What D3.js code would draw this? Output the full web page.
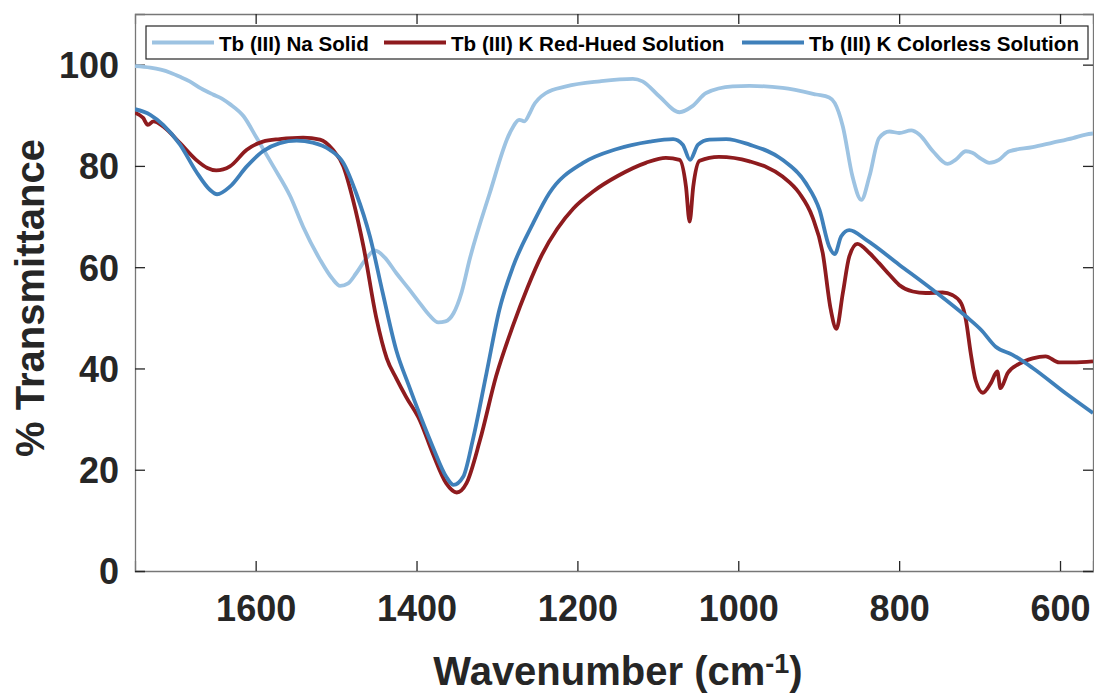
<!DOCTYPE html>
<html>
<head>
<meta charset="utf-8">
<script src="https://cdn.jsdelivr.net/npm/d3@7"></script>
<style>
  body { margin: 0; background: #fff; }
  svg { display: block; font-family: "Liberation Sans", Arial, Helvetica, sans-serif; font-weight: bold; }
</style>
</head>
<body>
<svg id="chart" width="1094" height="693"></svg>
<script>
// series names
var seriesNames = ['Tb (III) Na Solid', 'Tb (III) K Red-Hued Solution', 'Tb (III) K Colorless Solution'];

// Tb (III) Na Solid
var naWave = [1750, 1731, 1718, 1706, 1694, 1682, 1668, 1653, 1642, 1632, 1615, 1599, 1578, 1557, 1541, 1520, 1505, 1495, 1485, 1475, 1462, 1452, 1440, 1425, 1410, 1396, 1384, 1373, 1364, 1354, 1344, 1334, 1309, 1284, 1272, 1266, 1259, 1255, 1239, 1214, 1172, 1131, 1119, 1098, 1073, 1057, 1040, 1007, 986, 945, 903, 887, 880, 870, 858, 847, 837, 825, 812, 800, 785, 775, 758, 740, 730, 717, 709, 698, 688, 676, 663, 634, 609, 584, 568, 559];
var naT = [99.7, 99.4, 99.0, 98.4, 97.6, 96.7, 95.3, 94.1, 93.3, 92.2, 89.8, 85.6, 79.9, 74.0, 68.0, 61.5, 57.8, 56.3, 56.8, 58.8, 61.8, 63.3, 62.0, 58.8, 55.8, 52.9, 50.5, 49.1, 49.3, 50.9, 55.0, 61.5, 74.6, 86.5, 89.1, 88.8, 90.5, 91.8, 94.4, 95.7, 96.7, 97.2, 96.7, 93.7, 90.6, 91.8, 94.4, 95.7, 95.8, 95.4, 94.1, 93.5, 92.4, 87.8, 77.9, 73.3, 77.9, 85.5, 86.8, 86.5, 87.0, 86.2, 82.9, 80.4, 81.2, 82.9, 82.6, 81.4, 80.6, 81.2, 82.9, 83.7, 84.6, 85.5, 86.2, 86.4];

// Tb (III) K Red-Hued Solution
var redWave = [1750, 1740, 1734, 1727, 1715, 1694, 1674, 1660, 1649, 1632, 1611, 1591, 1570, 1541, 1520, 1504, 1491, 1479, 1466, 1450, 1437, 1425, 1413, 1396, 1380, 1363, 1350, 1338, 1321, 1301, 1280, 1262, 1244, 1225, 1205, 1180, 1150, 1115, 1090, 1073, 1065, 1060.5, 1056, 1048, 1024, 986, 945, 924, 908, 895, 885, 878, 870, 862, 852, 837, 825, 812, 800, 783, 767, 746, 734, 723, 717, 711, 705, 696, 686, 678, 674, 665, 651, 634, 618, 601, 584, 559];
var redT = [90.5, 89.5, 88.1, 88.8, 87.8, 84.5, 81.2, 79.6, 79.1, 79.9, 83.2, 84.8, 85.3, 85.6, 85.2, 83.2, 79.9, 73.3, 64.1, 50.0, 42.0, 38.0, 34.4, 29.8, 23.3, 17.3, 15.5, 17.3, 25.9, 38.5, 48.5, 56.0, 62.5, 67.6, 71.6, 75.0, 78.0, 80.6, 81.6, 81.2, 75.9, 69.0, 75.9, 81.0, 81.8, 80.9, 77.9, 74.6, 70.0, 62.8, 51.6, 47.8, 54.9, 62.1, 64.6, 62.8, 60.8, 58.5, 56.5, 55.2, 54.9, 55.0, 54.5, 52.9, 49.6, 43.0, 37.7, 35.2, 37.1, 39.4, 36.1, 39.1, 40.9, 42.0, 42.4, 41.2, 41.2, 41.4];

// Tb (III) K Colorless Solution
var blueWave = [1750, 1731, 1715, 1694, 1674, 1657, 1648, 1632, 1611, 1591, 1570, 1549, 1529, 1508, 1491, 1475, 1458, 1442, 1425, 1410, 1395, 1380, 1363, 1354, 1342, 1330, 1313, 1297, 1280, 1255, 1235, 1193, 1152, 1110, 1081, 1069, 1060, 1050, 1036, 1015, 986, 945, 916, 899, 887, 880, 872, 862, 841, 800, 758, 717, 698, 680, 659, 634, 593, 559];
var blueT = [91.2, 90.1, 88.1, 84.2, 78.9, 75.3, 74.4, 75.9, 79.9, 82.9, 84.5, 85.0, 84.6, 83.2, 80.6, 74.6, 66.1, 54.9, 43.5, 36.8, 30.5, 24.6, 18.6, 17.0, 18.6, 25.9, 39.1, 51.6, 60.1, 68.7, 74.6, 80.6, 83.3, 84.8, 85.3, 84.2, 81.2, 84.2, 85.2, 85.3, 84.2, 81.2, 76.6, 71.3, 64.1, 62.6, 66.1, 67.3, 65.4, 60.5, 55.5, 50.3, 47.6, 44.3, 42.7, 40.1, 35.1, 31.2];

var seriesColors = ['#9dc3e2', '#8e1b1e', '#3f80ba'];

var xTicks = [1600, 1400, 1200, 1000, 800, 600];
var yTicks = [0, 20, 40, 60, 80, 100];

// plot box (note: "top" is reserved on window, so prefix these)
var plotL = 135, plotR = 1093, plotT = 14, plotB = 571;
var tickLen = 10;
var ink = '#262626';

var svg = d3.select('#chart');

var x = d3.scaleLinear().domain([1750, 559]).range([plotL, plotR]);
var y = d3.scaleLinear().domain([0, 110]).range([plotB, plotT]);

function zip(ws, ts) {
  return ws.map(function(w, i) { return {w: w, t: ts[i]}; });
}
var series = [zip(naWave, naT), zip(redWave, redT), zip(blueWave, blueT)];

svg.append('defs').append('clipPath').attr('id', 'clip')
  .append('rect')
  .attr('x', plotL).attr('y', plotT)
  .attr('width', plotR - plotL).attr('height', plotB - plotT);

// axes, box with ticks pointing inwards
var xAxisB = d3.axisBottom(x).tickValues(xTicks).tickSize(-tickLen).tickPadding(24).tickFormat(d3.format('d'));
var xAxisT = d3.axisTop(x).tickValues(xTicks).tickSize(-tickLen).tickFormat('');
var yAxisL = d3.axisLeft(y).tickValues(yTicks).tickSize(-tickLen).tickPadding(16);
var yAxisR = d3.axisRight(y).tickValues(yTicks).tickSize(-tickLen).tickFormat('');

function styleAxis(g) {
  g.select('.domain').attr('stroke', '#777').attr('stroke-width', 1.3);
  g.selectAll('.tick line').attr('stroke', ink).attr('stroke-width', 1.3);
  g.selectAll('.tick text').attr('fill', ink).style('font-size', '36px').style('font-weight', 'bold')
    .style('font-family', '"Liberation Sans", Arial, sans-serif');
}

svg.append('g').attr('transform', 'translate(0,' + plotB + ')').call(xAxisB).call(styleAxis);
svg.append('g').attr('transform', 'translate(0,' + plotT + ')').call(xAxisT).call(styleAxis);
svg.append('g').attr('transform', 'translate(' + plotL + ',0)').call(yAxisL).call(styleAxis)
  .selectAll('.tick text').attr('dy', '0.36em');
svg.append('g').attr('transform', 'translate(' + plotR + ',0)').call(yAxisR).call(styleAxis);

// spectra
var line = d3.line()
  .x(function(d) { return x(d.w); })
  .y(function(d) { return y(d.t); })
  .curve(d3.curveMonotoneX);

svg.append('g').attr('clip-path', 'url(#clip)')
  .selectAll('path')
  .data(series)
  .enter()
  .append('path')
  .attr('d', line)
  .attr('fill', 'none')
  .attr('stroke', function(d, i) { return seriesColors[i]; })
  .attr('stroke-width', 3.8)
  .attr('stroke-linejoin', 'round');

// axis titles
var xt = svg.append('text')
  .attr('x', (plotL + plotR) / 2 + 4)
  .attr('y', 685)
  .attr('text-anchor', 'middle')
  .attr('fill', ink)
  .style('font-size', '40px');
xt.append('tspan').text('Wavenumber (cm');
xt.append('tspan').attr('dy', -12).style('font-size', '27px').text('-1');
xt.append('tspan').attr('dy', 12).text(')');

svg.append('text')
  .attr('transform', 'translate(44,' + 298 + ') rotate(-90)')
  .attr('text-anchor', 'middle')
  .attr('fill', ink)
  .style('font-size', '40px')
  .text('% Transmittance');

// legend
var legend = svg.append('g');
legend.append('rect')
  .attr('x', 146).attr('y', 26)
  .attr('width', 942).attr('height', 33)
  .attr('fill', '#fff')
  .attr('stroke', ink)
  .attr('stroke-width', 1.2);

var legendX = [152, 384, 742];
seriesNames.forEach(function(name, i) {
  legend.append('line')
    .attr('x1', legendX[i]).attr('x2', legendX[i] + 62)
    .attr('y1', 42.5).attr('y2', 42.5)
    .attr('stroke', seriesColors[i])
    .attr('stroke-width', 4);
  legend.append('text')
    .attr('x', legendX[i] + 67)
    .attr('y', 50.5)
    .attr('fill', '#000')
    .style('font-size', '20.6px')
    .text(name);
});
</script>
</body>
</html>
